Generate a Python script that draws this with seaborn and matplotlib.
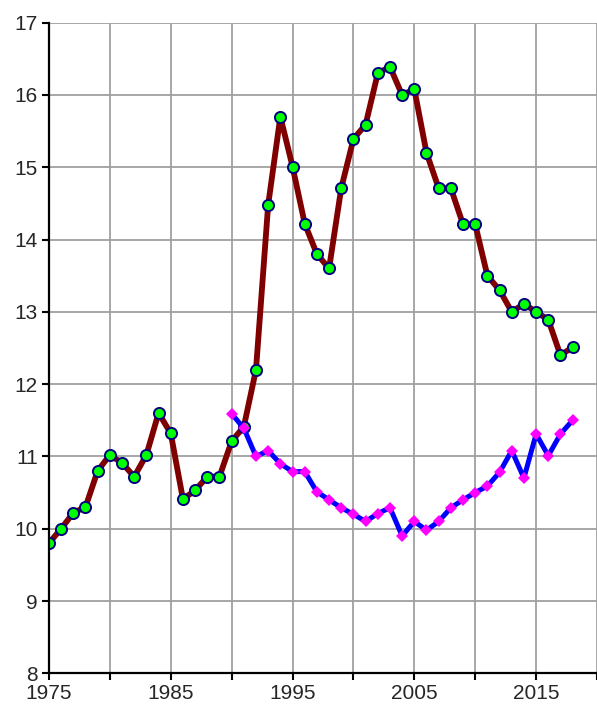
import numpy as np
import pandas as pd
import matplotlib
matplotlib.use("Agg")
import matplotlib.pyplot as plt
import seaborn as sns

# series 1: 1975-2018
years_a = list(range(1975, 2019))
values_a = [9.80, 10.00, 10.22, 10.30, 10.80, 11.02, 10.91, 10.72, 11.02, 11.60,
            11.32, 10.41, 10.53, 10.72, 10.72, 11.21, 11.41, 12.20, 14.48, 15.70,
            15.01, 14.22, 13.80, 13.60, 14.71, 15.39, 15.59, 16.30, 16.39, 16.00,
            16.08, 15.20, 14.71, 14.71, 14.21, 14.21, 13.50, 13.30, 13.00, 13.11,
            13.00, 12.89, 12.40, 12.51]

# series 2: 1990-2018
years_b = list(range(1990, 2019))
values_b = [11.59, 11.39, 11.00, 11.08, 10.90, 10.79, 10.79, 10.51, 10.40, 10.29,
            10.20, 10.10, 10.21, 10.29, 9.90, 10.10, 9.98, 10.10, 10.29, 10.40,
            10.50, 10.59, 10.78, 11.08, 10.70, 11.31, 11.01, 11.31, 11.50]

x_ticks = list(range(1975, 2021, 5))
x_labels = ["1975", "", "1985", "", "1995", "", "2005", "", "2015", ""]
y_ticks = list(range(8, 18))

df_a = pd.DataFrame({"year": years_a, "value": values_a})
df_b = pd.DataFrame({"year": years_b, "value": values_b})

sns.set_style("white")
plt.rcParams["font.family"] = ["Liberation Sans", "DejaVu Sans"]

fig = plt.figure(figsize=(5.97, 7.08), dpi=100)
ax = fig.add_axes([0.082, 0.049, 0.918, 0.919])

sns.lineplot(data=df_a, x="year", y="value", ax=ax, color="#800000", linewidth=4.2,
             marker="o", markersize=8, markerfacecolor="#00ff00",
             markeredgecolor="#000080", markeredgewidth=1.4, zorder=3)
sns.lineplot(data=df_b, x="year", y="value", ax=ax, color="#0000ff", linewidth=3.6,
             marker="D", markersize=6.5, markerfacecolor="#ff00ff",
             markeredgecolor="#ff00ff", markeredgewidth=0, zorder=4)

ax.set_xlim(1975, 2019.8)
ax.set_ylim(8, 17)
ax.set_xticks(x_ticks)
ax.set_xticklabels(x_labels)
ax.set_yticks(y_ticks)
ax.set_xlabel("")
ax.set_ylabel("")

ax.grid(True, color="#a0a0a0", linewidth=1.3)
ax.set_axisbelow(True)
for side in ["top", "right"]:
    ax.spines[side].set_visible(False)
for side in ["left", "bottom"]:
    ax.spines[side].set_color("black")
    ax.spines[side].set_linewidth(1.6)
    ax.spines[side].set_zorder(5)

ax.tick_params(axis="both", direction="out", length=5, width=1.5, color="black",
               labelsize=15, left=True, bottom=True, pad=3)

fig.savefig("out.png", dpi=100)
